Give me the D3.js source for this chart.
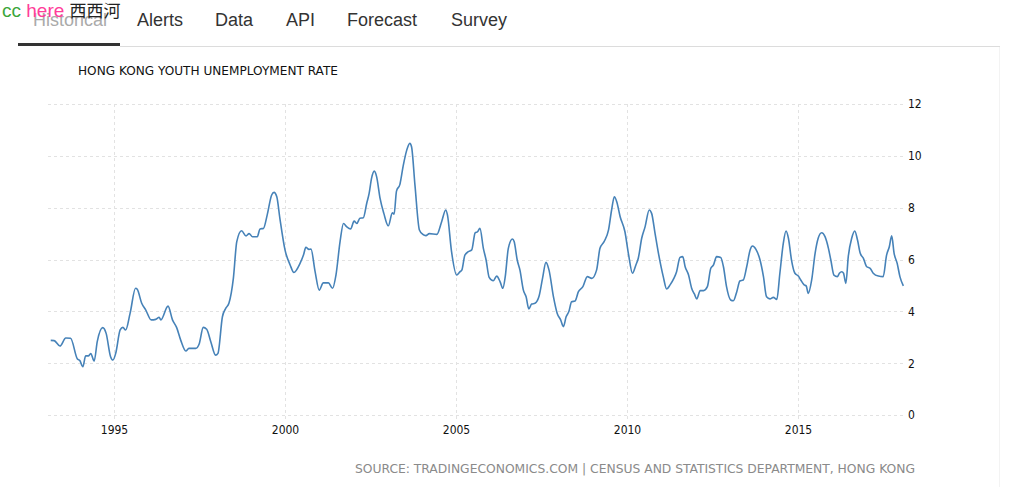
<!DOCTYPE html>
<html>
<head>
<meta charset="utf-8">
<script src="https://cdn.jsdelivr.net/npm/d3@7"></script>
<style>
  html, body { margin: 0; padding: 0; background: #fff; }
  svg { display: block; }
</style>
</head>
<body>
<svg id="chart" width="1024" height="487"></svg>
<script>
// ---- data (decimal year, rate %) ----
const dates = [
1993.15,1993.25,1993.42,1993.59,1993.73,1993.93,1994.00,1994.09,1994.17,1994.25,
1994.32,1994.42,1994.51,1994.67,1994.77,1994.90,1994.97,1995.05,1995.18,1995.26,
1995.34,1995.47,1995.63,1995.68,1995.81,1995.93,1996.09,1996.22,1996.32,1996.37,
1996.58,1996.71,1996.83,1996.95,1997.10,1997.19,1997.39,1997.49,1997.61,1997.71,
1997.83,1997.97,1998.04,1998.17,1998.27,1998.36,1998.49,1998.59,1998.73,1998.86,
1998.95,1999.05,1999.19,1999.27,1999.37,1999.48,1999.61,1999.68,1999.76,1999.85,
2000.00,2000.15,2000.26,2000.44,2000.54,2000.61,2000.70,2000.76,2000.88,2001.00,
2001.12,2001.27,2001.39,2001.49,2001.61,2001.71,2001.80,2001.92,2002.02,2002.10,
2002.19,2002.29,2002.39,2002.46,2002.53,2002.61,2002.68,2002.78,2002.89,2003.02,
2003.14,2003.19,2003.26,2003.36,2003.46,2003.56,2003.65,2003.70,2003.80,2003.93,
2004.03,2004.12,2004.22,2004.44,2004.58,2004.70,2004.75,2004.87,2005.02,2005.12,
2005.17,2005.26,2005.36,2005.46,2005.56,2005.63,2005.70,2005.80,2005.88,2005.97,
2006.09,2006.19,2006.29,2006.37,2006.44,2006.53,2006.65,2006.70,2006.79,2006.87,
2006.97,2007.05,2007.13,2007.21,2007.31,2007.43,2007.53,2007.63,2007.72,2007.85,
2007.96,2008.06,2008.14,2008.22,2008.30,2008.38,2008.48,2008.58,2008.71,2008.84,
2008.97,2009.11,2009.21,2009.33,2009.46,2009.55,2009.63,2009.70,2009.80,2009.94,
2010.04,2010.16,2010.26,2010.33,2010.43,2010.53,2010.65,2010.72,2010.82,2010.92,
2011.06,2011.16,2011.26,2011.37,2011.45,2011.55,2011.63,2011.70,2011.80,2011.89,
2011.97,2012.04,2012.14,2012.24,2012.35,2012.45,2012.53,2012.62,2012.74,2012.82,
2012.91,2013.03,2013.11,2013.21,2013.30,2013.40,2013.50,2013.60,2013.67,2013.77,
2013.89,2013.99,2014.08,2014.18,2014.28,2014.38,2014.47,2014.57,2014.65,2014.72,
2014.81,2014.91,2015.01,2015.08,2015.18,2015.24,2015.30,2015.40,2015.50,2015.59,
2015.69,2015.79,2015.89,2015.96,2016.05,2016.15,2016.21,2016.28,2016.33,2016.40,
2016.47,2016.57,2016.66,2016.74,2016.82,2016.91,2017.01,2017.11,2017.20,2017.35,
2017.49,2017.59,2017.67,2017.74,2017.81,2017.90,2017.98,2018.08
];
const rates = [
2.88,2.87,2.66,2.97,2.96,2.16,2.10,1.86,2.28,2.28,
2.37,2.08,2.83,3.37,3.15,2.25,2.12,2.38,3.28,3.38,
3.28,3.92,4.89,4.85,4.31,4.05,3.67,3.69,3.77,3.67,
4.20,3.67,3.38,2.89,2.47,2.57,2.57,2.74,3.38,3.31,
2.83,2.31,2.38,3.79,4.12,4.31,5.27,6.69,7.11,6.91,
7.00,6.88,6.88,7.18,7.20,7.72,8.49,8.59,8.42,7.59,
6.37,5.79,5.50,5.85,6.17,6.47,6.39,6.40,5.53,4.82,
5.10,5.10,4.89,5.40,6.69,7.39,7.27,7.18,7.48,7.39,
7.59,7.61,8.17,8.55,9.13,9.41,9.19,8.36,7.78,7.30,
7.80,7.75,8.64,8.90,9.64,10.22,10.48,10.35,8.87,7.14,
6.97,6.92,7.00,6.97,7.46,7.91,7.72,6.30,5.40,5.53,
5.59,6.17,6.30,6.37,7.03,7.07,7.20,6.43,5.98,5.31,
5.18,5.36,5.14,4.89,5.34,6.43,6.79,6.69,5.98,5.59,
4.82,4.56,4.09,4.28,4.31,4.59,5.27,5.89,5.59,4.56,
3.92,3.67,3.41,3.79,3.99,4.37,4.40,4.76,4.95,5.34,
5.27,5.59,6.43,6.69,7.14,7.91,8.42,8.23,7.65,7.07,
6.24,5.47,5.79,6.05,6.82,7.27,7.91,7.78,7.01,6.24,
5.34,4.86,5.02,5.27,5.53,6.08,6.11,5.72,5.40,4.89,
4.67,4.48,4.80,4.80,4.95,5.66,5.79,6.11,6.08,5.72,
4.95,4.44,4.41,4.76,5.17,5.21,5.72,6.37,6.52,6.39,
5.98,5.34,4.56,4.48,4.54,4.46,5.47,6.62,7.10,6.82,
5.98,5.47,5.36,5.21,5.02,4.98,4.69,5.21,6.24,6.82,
7.03,6.88,6.43,5.98,5.40,5.34,5.47,5.53,5.47,5.08,
6.11,6.82,7.10,6.75,6.24,6.05,5.72,5.66,5.47,5.36,
5.34,6.17,6.49,6.91,6.24,5.85,5.34,4.98
];
const yTicks = [0, 2, 4, 6, 8, 10, 12];
const xTicks = [1995, 2000, 2005, 2010, 2015];
const navItems = ["Historical", "Alerts", "Data", "API", "Forecast", "Survey"];
const titleText = "HONG KONG YOUTH UNEMPLOYMENT RATE";
const sourceText = "SOURCE: TRADINGECONOMICS.COM | CENSUS AND STATISTICS DEPARTMENT, HONG KONG";

const svg = d3.select("#chart");

// ---- header nav ----
const navX = [33, 137, 215, 286, 347, 451];
svg.append("line").attr("x1", 120).attr("x2", 1000).attr("y1", 46.5).attr("y2", 46.5)
  .attr("stroke", "#dcdcdc").attr("stroke-width", 1);
svg.append("rect").attr("x", 18).attr("y", 43).attr("width", 102).attr("height", 3).attr("fill", "#333");
svg.selectAll("text.nav").data(navItems).join("text")
  .attr("class", "nav")
  .attr("x", (d, i) => navX[i]).attr("y", 26)
  .attr("font-family", "Liberation Sans, Arial, sans-serif")
  .attr("font-size", 18)
  .attr("fill", (d, i) => i === 0 ? "#aaa" : "#333")
  .text(d => d);

// overlay label
const ov = svg.append("text").attr("x", 2).attr("y", 17)
  .attr("font-family", "Liberation Sans, Arial, sans-serif").attr("font-size", 19);
ov.append("tspan").attr("fill", "#3aa63a").text("cc ");
ov.append("tspan").attr("fill", "#ff3d9a").text("here ");
ov.append("tspan").attr("fill", "#222").attr("font-family", "Noto Sans CJK SC").attr("font-size", 17).text("西西河");

// faint right container border
svg.append("line").attr("x1", 999.5).attr("x2", 999.5).attr("y1", 47).attr("y2", 487)
  .attr("stroke", "#f3f3f3");

// ---- chart ----
const x = d3.scaleLinear().domain([1995, 2015]).range([114, 798]);
const y = d3.scaleLinear().domain([0, 12]).range([415, 104]);
const plotLeft = 48, plotRight = 905;

const chartFont = "DejaVu Sans, Verdana, sans-serif";

svg.append("text").attr("x", 78).attr("y", 75)
  .attr("font-family", chartFont).attr("font-size", 12).attr("fill", "#111")
  .attr("textLength", 260).attr("lengthAdjust", "spacingAndGlyphs")
  .text(titleText);

// horizontal grid
svg.append("g").selectAll("line").data(yTicks).join("line")
  .attr("x1", plotLeft).attr("x2", plotRight)
  .attr("y1", d => Math.round(y(d)) + 0.5).attr("y2", d => Math.round(y(d)) + 0.5)
  .attr("stroke", "#e2e2e2").attr("stroke-dasharray", "3,3");

// vertical grid
svg.append("g").selectAll("line").data(xTicks).join("line")
  .attr("x1", d => Math.round(x(d)) + 0.5).attr("x2", d => Math.round(x(d)) + 0.5)
  .attr("y1", 104).attr("y2", 421)
  .attr("stroke", "#e2e2e2").attr("stroke-dasharray", "3,3");

// y axis (right)
const yAxis = d3.axisRight(y).tickValues(yTicks).tickSize(0).tickPadding(0);
const gy = svg.append("g").attr("transform", `translate(908,0)`).call(yAxis);
gy.select(".domain").remove();
gy.selectAll("text").attr("font-family", "DejaVu Sans Condensed, DejaVu Sans, sans-serif")
  .attr("font-size", 12).attr("fill", "#111").attr("x", 0);

// x axis (bottom)
const xAxis = d3.axisBottom(x).tickValues(xTicks).tickFormat(d3.format("d")).tickSize(0).tickPadding(0);
const gx = svg.append("g").attr("transform", `translate(0,425)`).call(xAxis);
gx.select(".domain").remove();
gx.selectAll("text").attr("font-family", "DejaVu Sans Condensed, DejaVu Sans, sans-serif")
  .attr("font-size", 12).attr("fill", "#111");

// line
const data = dates.map((d, i) => ({ t: d, v: rates[i] }));
const line = d3.line().x(d => x(d.t)).y(d => y(d.v)).curve(d3.curveMonotoneX);
svg.append("path").datum(data).attr("d", line)
  .attr("fill", "none").attr("stroke", "#4682b8").attr("stroke-width", 1.6)
  .attr("stroke-linejoin", "round");

// source
svg.append("text").attr("x", 915).attr("y", 473).attr("text-anchor", "end")
  .attr("font-family", "DejaVu Sans Condensed, DejaVu Sans, sans-serif")
  .attr("font-size", 12).attr("fill", "#8a8a8a")
  .attr("textLength", 560).attr("lengthAdjust", "spacingAndGlyphs")
  .text(sourceText);
</script>
</body>
</html>
